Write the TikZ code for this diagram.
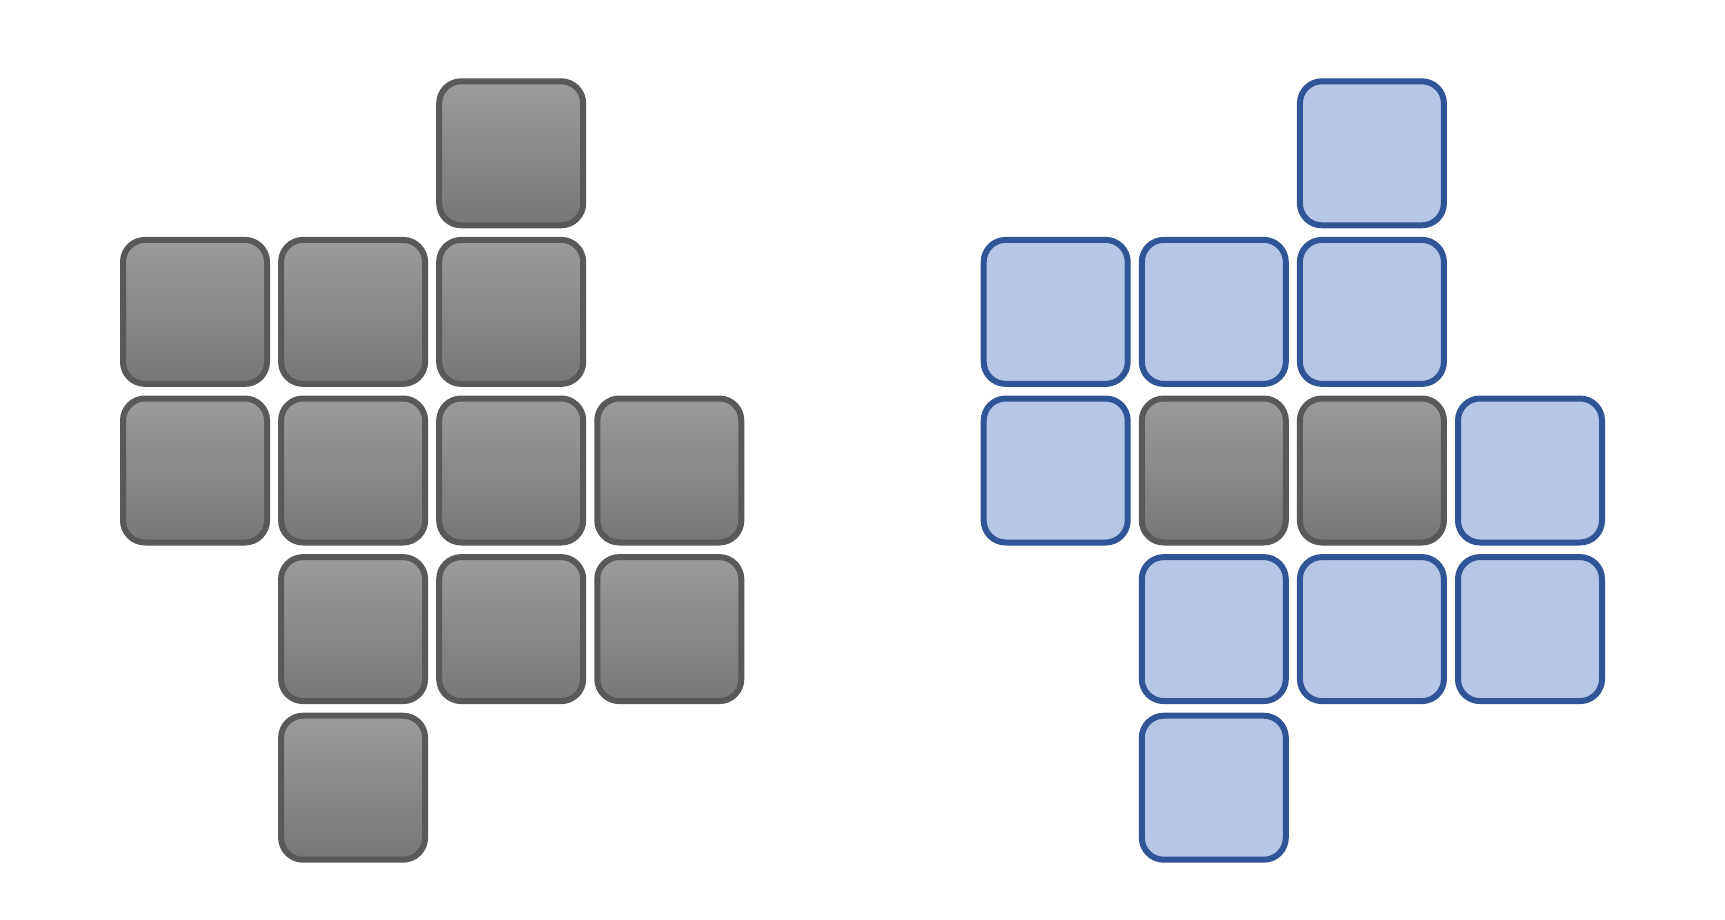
\documentclass[tikz,border=0pt]{standalone}
\begin{document}
\begin{tikzpicture}[x=1pt,y=-1pt,
  cell/.style={rectangle,rounded corners=22pt,minimum width=144pt,minimum height=144pt,line width=6pt,inner sep=0pt},
  graycell/.style={cell,draw=graybd,top color=graytop,bottom color=graybot},
  bluecell/.style={cell,draw=bluebd,fill=bluefill}]
\definecolor{graybd}{HTML}{595959}
\definecolor{graytop}{HTML}{9B9B9B}
\definecolor{graybot}{HTML}{777777}
\definecolor{bluebd}{HTML}{2F5597}
\definecolor{bluefill}{HTML}{B4C7E7}
\useasboundingbox (0,0) rectangle (1725,920);
% left grid
\foreach \c/\r [count=\i] in {3/1,1/2,2/2,3/2,1/3,2/3,3/3,4/3,2/4,3/4,4/4,2/5}{
  \node[graycell] (L\i) at ({195+158.1*(\c-1)},{153.3+158.6*(\r-1)}) {};
}
% right grid
\foreach \c/\r/\s [count=\i] in {3/1/bluecell,1/2/bluecell,2/2/bluecell,3/2/bluecell,1/3/bluecell,2/3/graycell,3/3/graycell,4/3/bluecell,2/4/bluecell,3/4/bluecell,4/4/bluecell,2/5/bluecell}{
  \node[\s] (R\i) at ({1055.7+158.1*(\c-1)},{153.3+158.6*(\r-1)}) {};
}
\end{tikzpicture}
\end{document}
